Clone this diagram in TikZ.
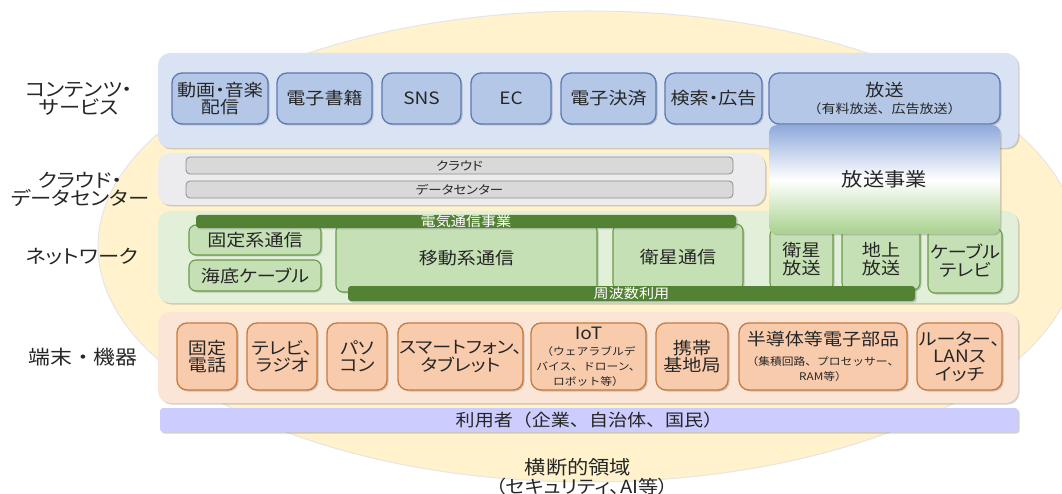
\documentclass[tikz,border=0pt]{standalone}
\usepackage{fontspec}
\setmainfont{Noto Sans CJK JP}[FakeStretch=1.12,RawFeature=+palt]
\newfontfamily\fullfont{Noto Sans CJK JP}[FakeStretch=1.12]
\usetikzlibrary{shadows}

\definecolor{bgyellow}{HTML}{FFF2CC}
\definecolor{cpanel}{HTML}{DAE3F3}
\definecolor{cfill}{HTML}{B4C7E7}
\definecolor{cline}{HTML}{5A7AB4}
\definecolor{gpanel}{HTML}{ECECEE}
\definecolor{gfill}{HTML}{D9D9D9}
\definecolor{gline}{HTML}{8C8C8C}
\definecolor{npanel}{HTML}{E2F0D9}
\definecolor{nfill}{HTML}{C5E0B4}
\definecolor{nline}{HTML}{6A9A4A}
\definecolor{nbar}{HTML}{548235}
\definecolor{dpanel}{HTML}{FBE5D6}
\definecolor{dfill}{HTML}{F8CBAD}
\definecolor{dline}{HTML}{C87A3C}
\definecolor{ubar}{HTML}{CCCCFF}
\definecolor{txt}{HTML}{262626}
\definecolor{btop}{HTML}{8EA9DB}
\definecolor{bbot}{HTML}{A9D18E}

\newcommand\subsize{\fullfont\fontsize{10.5}{15}\selectfont}
\newcommand\titlesize{\fontsize{17}{17.5}\selectfont}

\tikzset{
  shadowed/.style={drop shadow={shadow xshift=1.5pt, shadow yshift=-1.5pt, opacity=0.3, fill=black!60}},
  panel/.style={shadowed, rounded corners=12pt, inner sep=0pt},
  lbl/.style={text=txt, align=center, inner sep=0pt, font=\titlesize},
  cbox/.style={lbl, shadowed, fill=cfill, draw=cline, line width=1.3pt, rounded corners=10pt, minimum height=51pt},
  gbar/.style={text=txt, inner sep=0pt, fill=gfill, draw=gline, line width=0.8pt, rounded corners=4pt,
    minimum width=547pt, minimum height=17pt, font=\fontsize{12}{14}\selectfont},
  nbox/.style={lbl, shadowed, fill=nfill, draw=nline, line width=1.1pt, rounded corners=7pt},
  nbar/.style={text=white, inner sep=0pt, fill=nbar, rounded corners=3pt, shadowed, font=\fontsize{13.5}{14}\selectfont},
  dbox/.style={lbl, shadowed, fill=dfill, draw=dline, line width=1.3pt, rounded corners=10pt, minimum height=67pt},
  bizbox/.style={lbl, shadowed, top color=btop, bottom color=bbot, middle color=white, rounded corners=8pt,
    font=\fontsize{19}{20}\selectfont},
  side/.style={text=txt, align=center, font=\fontsize{19}{18}\selectfont}
}

\begin{document}
\begin{tikzpicture}[x=1pt,y=-1pt]
\useasboundingbox (0,0) rectangle (1062,494);
\clip (0,0) rectangle (1062,494);

% cross-sector area
\fill[bgyellow, draw=black!10, line width=1pt] (588,246.5) ellipse [x radius=490pt, y radius=235.5pt];

% contents and services
\node (contents) at (588,100.5) [panel, fill=cpanel, minimum width=860pt, minimum height=95pt]{};
\node (video) at (220,98.5) [cbox, minimum width=96pt]{動画・音楽\\配信};
\node (ebook) at (324.5,98.5) [cbox, minimum width=95pt]{電子書籍};
\node (sns) at (421.5,98.5) [cbox, minimum width=79pt]{SNS};
\node (ec) at (511,98.5) [cbox, minimum width=80pt]{EC};
\node (epay) at (608.5,98.5) [cbox, minimum width=95pt]{電子決済};
\node (search) at (713.5,98.5) [cbox, minimum width=97pt]{検索・広告};
\node (bcast) at (884.5,98.5) [cbox, minimum width=231pt]{放送\\[-1pt]{\fullfont\fontsize{12.5}{15}\selectfont （有料放送、広告放送）}};

% cloud and data center
\node (cloudpanel) at (461.5,179) [panel, fill=gpanel, minimum width=607pt, minimum height=52pt]{};
\node (cloud) at (459.5,165.5) [gbar]{クラウド};
\node (dc) at (459.5,189.5) [gbar]{データセンター};

% network
\node (network) at (588,257) [panel, fill=npanel, minimum width=860pt, minimum height=92pt]{};
\node (fixed) at (255,240) [nbox, minimum width=132pt, minimum height=30pt]{固定系通信};
\node (cable) at (255,275.5) [nbox, minimum width=132pt, minimum height=31pt]{海底ケーブル};
\node (mobile) at (466.5,258) [nbox, minimum width=261pt, minimum height=68pt]{移動系通信};
\node (sat) at (678,257) [nbox, minimum width=130pt, minimum height=66pt]{衛星通信};
\node (satb) at (801.5,259) [nbox, minimum width=63pt, minimum height=62pt]{衛星\\放送};
\node (terr) at (881,259) [nbox, minimum width=78pt, minimum height=62pt]{地上\\放送};
\node (catv) at (965,260.5) [nbox, minimum width=74pt, minimum height=65pt]{ケーブル\\テレビ};
\node (telecom) at (466,221.5) [nbar, minimum width=540pt, minimum height=13pt]{電気通信事業};
\node (freq) at (631.5,293.5) [nbar, minimum width=567pt, minimum height=15pt]{周波数利用};

% broadcasting business
\node (bizbcast) at (884.5,179.5) [bizbox, minimum width=231pt, minimum height=109pt]{放送事業};

% devices
\node (devices) at (588,357.5) [panel, fill=dpanel, minimum width=860pt, minimum height=91pt]{};
\node (phone) at (207,356.5) [dbox, minimum width=60pt]{固定\\電話};
\node (tvradio) at (282,356.5) [dbox, minimum width=70pt]{テレビ、\\ラジオ};
\node (pc) at (357,356.5) [dbox, minimum width=60pt]{パソ\\コン};
\node (smart) at (460.5,356.5) [dbox, minimum width=125pt]{スマートフォン、\\タブレット};
\node (iot) at (588.5,356.5) [dbox, minimum width=115pt, font=\subsize]{{\titlesize IoT}\\[1pt]（ウェアラブルデ\\バイス、ドローン、\\ロボット等）};
\node (base) at (692,356.5) [dbox, minimum width=72pt]{携帯\\基地局};
\node (semi) at (823,356.5) [dbox, minimum width=168pt, font=\subsize]{{\titlesize 半導体等電子部品}\\[5pt]（集積回路、プロセッサー、\\RAM等）};
\node (router) at (959.5,356.5) [dbox, minimum width=85pt]{ルーター、\\LANス\\イッチ};

% users
\node (users) at (589,420) [lbl, shadowed, fill=ubar, rounded corners=3pt, minimum width=858pt, minimum height=24pt, font=\fullfont\titlesize]{利用者（企業、自治体、国民）};

% layer names
\node (lcontents) at (79,99) [side]{コンテンツ・\\サービス};
\node (lcloud) at (80,189) [side]{クラウド・\\データセンター};
\node (lnetwork) at (82,257) [side]{ネットワーク};
\node (ldevices) at (83,357) [side, font=\fullfont\fontsize{19.5}{18}\selectfont]{端末・機器};

% cross-sector label
\node (cross) at (578,467) [side, font=\fontsize{19}{20}\selectfont]{横断的領域};
\node (crossnote) at (582,487) [side, font=\fontsize{18}{20}\selectfont]{（セキュリティ、AI等）};
\end{tikzpicture}
\end{document}
